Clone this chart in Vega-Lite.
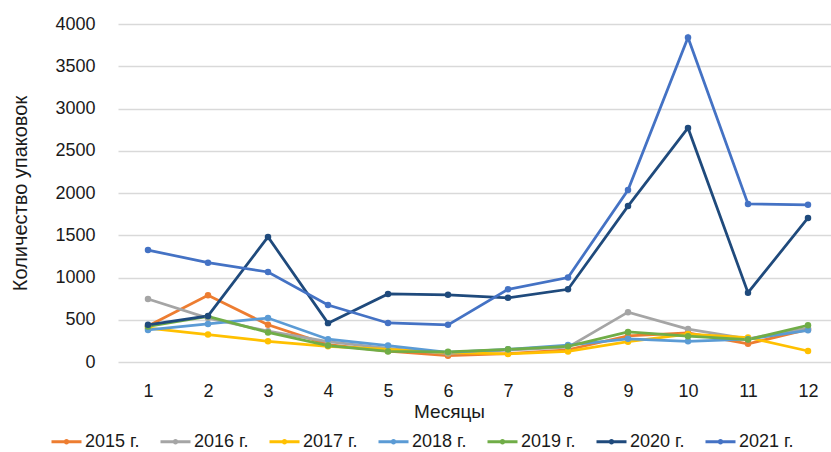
{
  "$schema": "https://vega.github.io/schema/vega-lite/v6.json",
  "width": 713,
  "height": 338,
  "autosize": {"type": "none"},
  "padding": {"left": 118, "top": 24, "right": 0, "bottom": 90},
  "background": "white",
  "config": {
    "font": "Liberation Sans",
    "view": {"stroke": null}
  },
  "data": {"values": [
    {"m": 1, "y": "2015 г.", "v": 425}, {"m": 2, "y": "2015 г.", "v": 790}, {"m": 3, "y": "2015 г.", "v": 440}, {"m": 4, "y": "2015 г.", "v": 205}, {"m": 5, "y": "2015 г.", "v": 130}, {"m": 6, "y": "2015 г.", "v": 75}, {"m": 7, "y": "2015 г.", "v": 100}, {"m": 8, "y": "2015 г.", "v": 145}, {"m": 9, "y": "2015 г.", "v": 310}, {"m": 10, "y": "2015 г.", "v": 345}, {"m": 11, "y": "2015 г.", "v": 215}, {"m": 12, "y": "2015 г.", "v": 385},
    {"m": 1, "y": "2016 г.", "v": 745}, {"m": 2, "y": "2016 г.", "v": 520}, {"m": 3, "y": "2016 г.", "v": 365}, {"m": 4, "y": "2016 г.", "v": 240}, {"m": 5, "y": "2016 г.", "v": 160}, {"m": 6, "y": "2016 г.", "v": 100}, {"m": 7, "y": "2016 г.", "v": 140}, {"m": 8, "y": "2016 г.", "v": 175}, {"m": 9, "y": "2016 г.", "v": 590}, {"m": 10, "y": "2016 г.", "v": 390}, {"m": 11, "y": "2016 г.", "v": 275}, {"m": 12, "y": "2016 г.", "v": 400},
    {"m": 1, "y": "2017 г.", "v": 400}, {"m": 2, "y": "2017 г.", "v": 325}, {"m": 3, "y": "2017 г.", "v": 245}, {"m": 4, "y": "2017 г.", "v": 185}, {"m": 5, "y": "2017 г.", "v": 150}, {"m": 6, "y": "2017 г.", "v": 110}, {"m": 7, "y": "2017 г.", "v": 95}, {"m": 8, "y": "2017 г.", "v": 125}, {"m": 9, "y": "2017 г.", "v": 240}, {"m": 10, "y": "2017 г.", "v": 330}, {"m": 11, "y": "2017 г.", "v": 290}, {"m": 12, "y": "2017 г.", "v": 130},
    {"m": 1, "y": "2018 г.", "v": 380}, {"m": 2, "y": "2018 г.", "v": 450}, {"m": 3, "y": "2018 г.", "v": 520}, {"m": 4, "y": "2018 г.", "v": 270}, {"m": 5, "y": "2018 г.", "v": 195}, {"m": 6, "y": "2018 г.", "v": 115}, {"m": 7, "y": "2018 г.", "v": 150}, {"m": 8, "y": "2018 г.", "v": 200}, {"m": 9, "y": "2018 г.", "v": 275}, {"m": 10, "y": "2018 г.", "v": 245}, {"m": 11, "y": "2018 г.", "v": 270}, {"m": 12, "y": "2018 г.", "v": 375},
    {"m": 1, "y": "2019 г.", "v": 420}, {"m": 2, "y": "2019 г.", "v": 540}, {"m": 3, "y": "2019 г.", "v": 350}, {"m": 4, "y": "2019 г.", "v": 195}, {"m": 5, "y": "2019 г.", "v": 125}, {"m": 6, "y": "2019 г.", "v": 120}, {"m": 7, "y": "2019 г.", "v": 150}, {"m": 8, "y": "2019 г.", "v": 185}, {"m": 9, "y": "2019 г.", "v": 355}, {"m": 10, "y": "2019 г.", "v": 305}, {"m": 11, "y": "2019 г.", "v": 265}, {"m": 12, "y": "2019 г.", "v": 435},
    {"m": 1, "y": "2020 г.", "v": 440}, {"m": 2, "y": "2020 г.", "v": 545}, {"m": 3, "y": "2020 г.", "v": 1480}, {"m": 4, "y": "2020 г.", "v": 460}, {"m": 5, "y": "2020 г.", "v": 805}, {"m": 6, "y": "2020 г.", "v": 795}, {"m": 7, "y": "2020 г.", "v": 760}, {"m": 8, "y": "2020 г.", "v": 860}, {"m": 9, "y": "2020 г.", "v": 1845}, {"m": 10, "y": "2020 г.", "v": 2770}, {"m": 11, "y": "2020 г.", "v": 820}, {"m": 12, "y": "2020 г.", "v": 1705},
    {"m": 1, "y": "2021 г.", "v": 1325}, {"m": 2, "y": "2021 г.", "v": 1175}, {"m": 3, "y": "2021 г.", "v": 1065}, {"m": 4, "y": "2021 г.", "v": 675}, {"m": 5, "y": "2021 г.", "v": 462}, {"m": 6, "y": "2021 г.", "v": 440}, {"m": 7, "y": "2021 г.", "v": 860}, {"m": 8, "y": "2021 г.", "v": 1000}, {"m": 9, "y": "2021 г.", "v": 2035}, {"m": 10, "y": "2021 г.", "v": 3840}, {"m": 11, "y": "2021 г.", "v": 1870}, {"m": 12, "y": "2021 г.", "v": 1860}
  ]},
  "encoding": {
    "x": {"field": "m", "type": "ordinal", "scale": {"type": "point", "padding": 0.5, "range": [0, 720]},
      "axis": {"title": "Месяцы", "labelAngle": 0, "labelFontSize": 18, "labelColor": "#1a1a1a", "titleFontSize": 19, "titleFontWeight": "normal", "titleColor": "#1a1a1a", "domain": false, "ticks": false, "labelPadding": 20, "labelBaseline": "top", "grid": false, "titleX": 331, "titleY": 55, "titleAnchor": null, "titleAlign": "center", "titleBaseline": "alphabetic"}},
    "y": {"field": "v", "type": "quantitative", "scale": {"domain": [0, 4000], "nice": false},
      "axis": {"title": "Количество упаковок", "values": [0, 500, 1000, 1500, 2000, 2500, 3000, 3500, 4000], "format": "d", "labelFontSize": 18, "labelColor": "#1a1a1a", "titleFontSize": 20, "titleFontWeight": "normal", "titleColor": "#1a1a1a", "domain": false, "ticks": false, "labelPadding": 23, "titleX": -98, "titleY": 169, "titleAnchor": null, "titleAlign": "center", "titleBaseline": "middle", "gridColor": "#D9D9D9", "gridWidth": 1.3}},
    "color": {"field": "y", "type": "nominal",
      "scale": {"domain": ["2015 г.", "2016 г.", "2017 г.", "2018 г.", "2019 г.", "2020 г.", "2021 г."], "range": ["#ED7D31", "#A5A5A5", "#FFC000", "#5B9BD5", "#70AD47", "#1F4A7C", "#4472C4"]},
      "legend": {"title": null, "orient": "none", "legendX": -68, "legendY": 401, "direction": "horizontal", "symbolType": "M-1,0H1M-0.08,0A0.08,0.08 0 1,0 0.08,0A0.08,0.08 0 1,0 -0.08,0", "symbolSize": 900, "symbolStrokeWidth": 3, "labelFontSize": 18, "labelColor": "#1a1a1a", "columnPadding": 14, "labelOffset": 2}}
  },
  "layer": [
    {"mark": {"type": "line", "strokeWidth": 2.75}},
    {"mark": {"type": "point", "filled": true, "size": 42, "opacity": 1}}
  ]
}
